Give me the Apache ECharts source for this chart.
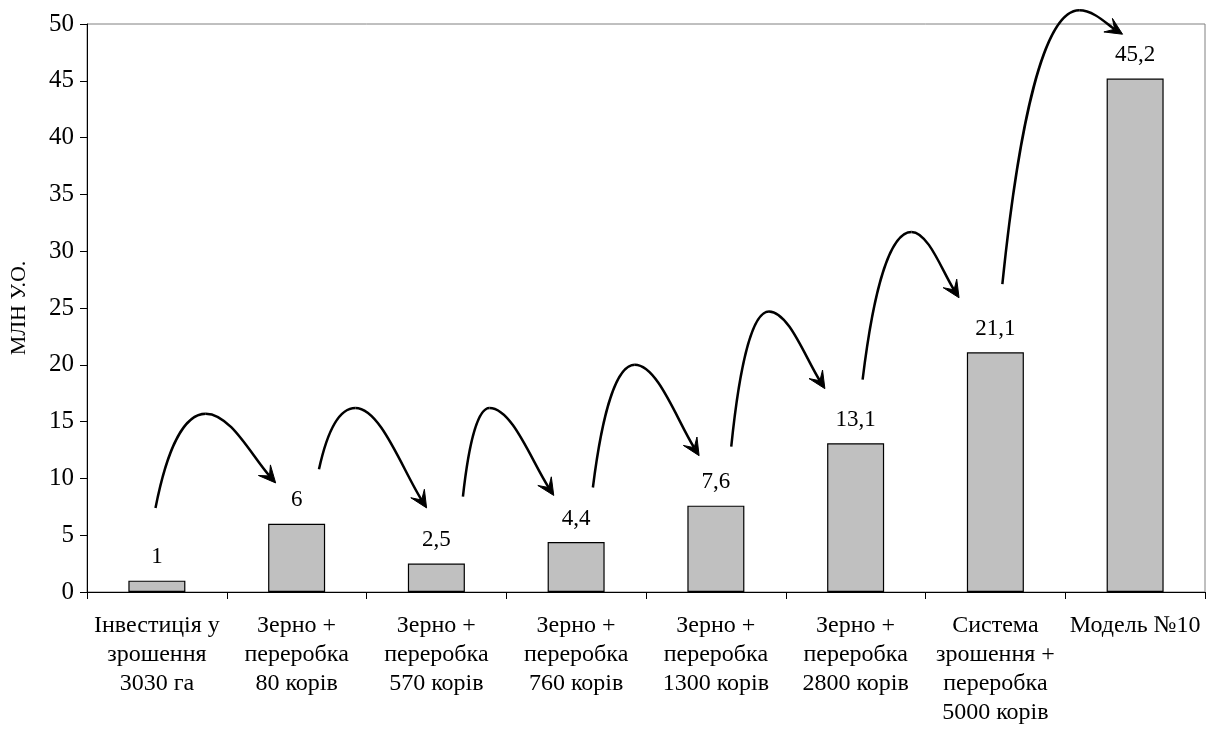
<!DOCTYPE html>
<html>
<head>
<meta charset="utf-8">
<script src="https://cdn.jsdelivr.net/npm/echarts@6/dist/echarts.min.js"></script>
<style>
html,body{margin:0;padding:0;background:#fff;}
#chart{width:1208px;height:729px;}
</style>
</head>
<body>
<div id="chart"></div>
<script>
const categories = [
  'Інвестиція у\nзрошення\n3030 га',
  'Зерно +\nпереробка\n80 корів',
  'Зерно +\nпереробка\n570 корів',
  'Зерно +\nпереробка\n760 корів',
  'Зерно +\nпереробка\n1300 корів',
  'Зерно +\nпереробка\n2800 корів',
  'Система\nзрошення +\nпереробка\n5000 корів',
  'Модель №10'
];
const values = [1, 6, 2.5, 4.4, 7.6, 13.1, 21.1, 45.2];
const yTicks = { min: 0, max: 50, interval: 5 };
const yName = 'МЛН У.О.';

// decorative arrows (category position, value)
const arrowStart = [[-0.01, 7.4], [1.16, 10.8], [2.19, 8.4], [3.12, 9.2], [4.11, 12.8], [5.05, 18.7], [6.05, 27.1]];
const arrowPeak  = [[0.35, 15.7], [1.42, 16.2], [2.38, 16.2], [3.42, 20.0], [4.38, 24.7], [5.40, 31.7], [6.60, 51.2]];
const arrowTip   = [[0.85, 9.6],  [1.93, 7.4],  [2.84, 8.5],  [3.88, 12.0], [4.78, 17.9], [5.74, 25.9], [6.91, 49.1]];

const FONT = "'Liberation Serif', 'Times New Roman', serif";
const arrowData = arrowStart.map((s, i) => [s[0], s[1], arrowPeak[i][0], arrowPeak[i][1], arrowTip[i][0], arrowTip[i][1]]);

function renderArrow(params, api) {
  const s = api.coord([api.value(0), api.value(1)]);
  const p = api.coord([api.value(2), api.value(3)]);
  const t = api.coord([api.value(4), api.value(5)]);
  const c1 = [s[0] + (p[0] - s[0]) * 0.22, s[1] + (p[1] - s[1]) * 0.6];
  const c2 = [p[0] - (p[0] - s[0]) * 0.45, p[1]];
  const c3 = [p[0] + (t[0] - p[0]) * 0.35, p[1]];
  const c4 = [t[0] - (t[0] - p[0]) * 0.35, t[1] - (t[1] - p[1]) * 0.4];
  let ux = t[0] - c4[0], uy = t[1] - c4[1];
  const len = Math.sqrt(ux * ux + uy * uy) || 1;
  ux /= len; uy /= len;
  const nx = -uy, ny = ux;
  const L = 17, W = 8;
  const notch = [t[0] - ux * L * 0.55, t[1] - uy * L * 0.55];
  const head = [
    [t[0], t[1]],
    [t[0] - ux * L + nx * W, t[1] - uy * L + ny * W],
    notch,
    [t[0] - ux * L - nx * W, t[1] - uy * L - ny * W]
  ];
  const lineStyle = { stroke: '#000', lineWidth: 2.5, fill: 'none' };
  return {
    type: 'group',
    children: [
      { type: 'bezierCurve', shape: { x1: s[0], y1: s[1], cpx1: c1[0], cpy1: c1[1], cpx2: c2[0], cpy2: c2[1], x2: p[0], y2: p[1] }, style: lineStyle },
      { type: 'bezierCurve', shape: { x1: p[0], y1: p[1], cpx1: c3[0], cpy1: c3[1], cpx2: c4[0], cpy2: c4[1], x2: notch[0], y2: notch[1] }, style: lineStyle },
      { type: 'polygon', shape: { points: head }, style: { fill: '#000', stroke: '#000', lineWidth: 1 } }
    ]
  };
}

const chart = echarts.init(document.getElementById('chart'));
chart.setOption({
  backgroundColor: '#fff',
  animation: false,
  grid: { left: 86, right: 3, top: 24, bottom: 137, show: true, borderColor: '#808080', borderWidth: 1 },
  xAxis: [
    {
      type: 'category',
      data: categories,
      axisLine: { lineStyle: { color: '#000', width: 1 } },
      axisTick: { show: true, length: 7, lineStyle: { color: '#000' } },
      axisLabel: { color: '#000', fontFamily: FONT, fontSize: 24, lineHeight: 29, margin: 19, interval: 0 }
    },
    { type: 'value', min: -0.5, max: 7.5, show: false }
  ],
  yAxis: {
    type: 'value',
    min: yTicks.min, max: yTicks.max, interval: yTicks.interval,
    name: yName,
    nameLocation: 'middle',
    nameRotate: 90,
    nameGap: 57,
    nameTextStyle: { color: '#000', fontFamily: FONT, fontSize: 22 },
    axisLine: { show: true, onZero: false, lineStyle: { color: '#000', width: 1 } },
    axisTick: { show: true, length: 7, lineStyle: { color: '#000' } },
    axisLabel: { color: '#000', fontFamily: FONT, fontSize: 25, margin: 13 },
    splitLine: { show: false }
  },
  series: [
    {
      type: 'bar',
      data: values,
      barWidth: 57,
      itemStyle: { color: '#c0c0c0', borderColor: '#000', borderWidth: 1.2 },
      label: {
        show: true, position: 'top', distance: 12,
        color: '#000', fontFamily: FONT, fontSize: 23,
        formatter: p => String(p.value).replace('.', ',')
      }
    },
    {
      type: 'custom',
      xAxisIndex: 1,
      yAxisIndex: 0,
      clip: false,
      data: arrowData,
      renderItem: renderArrow,
      z: 5
    }
  ]
});
</script>
</body>
</html>
